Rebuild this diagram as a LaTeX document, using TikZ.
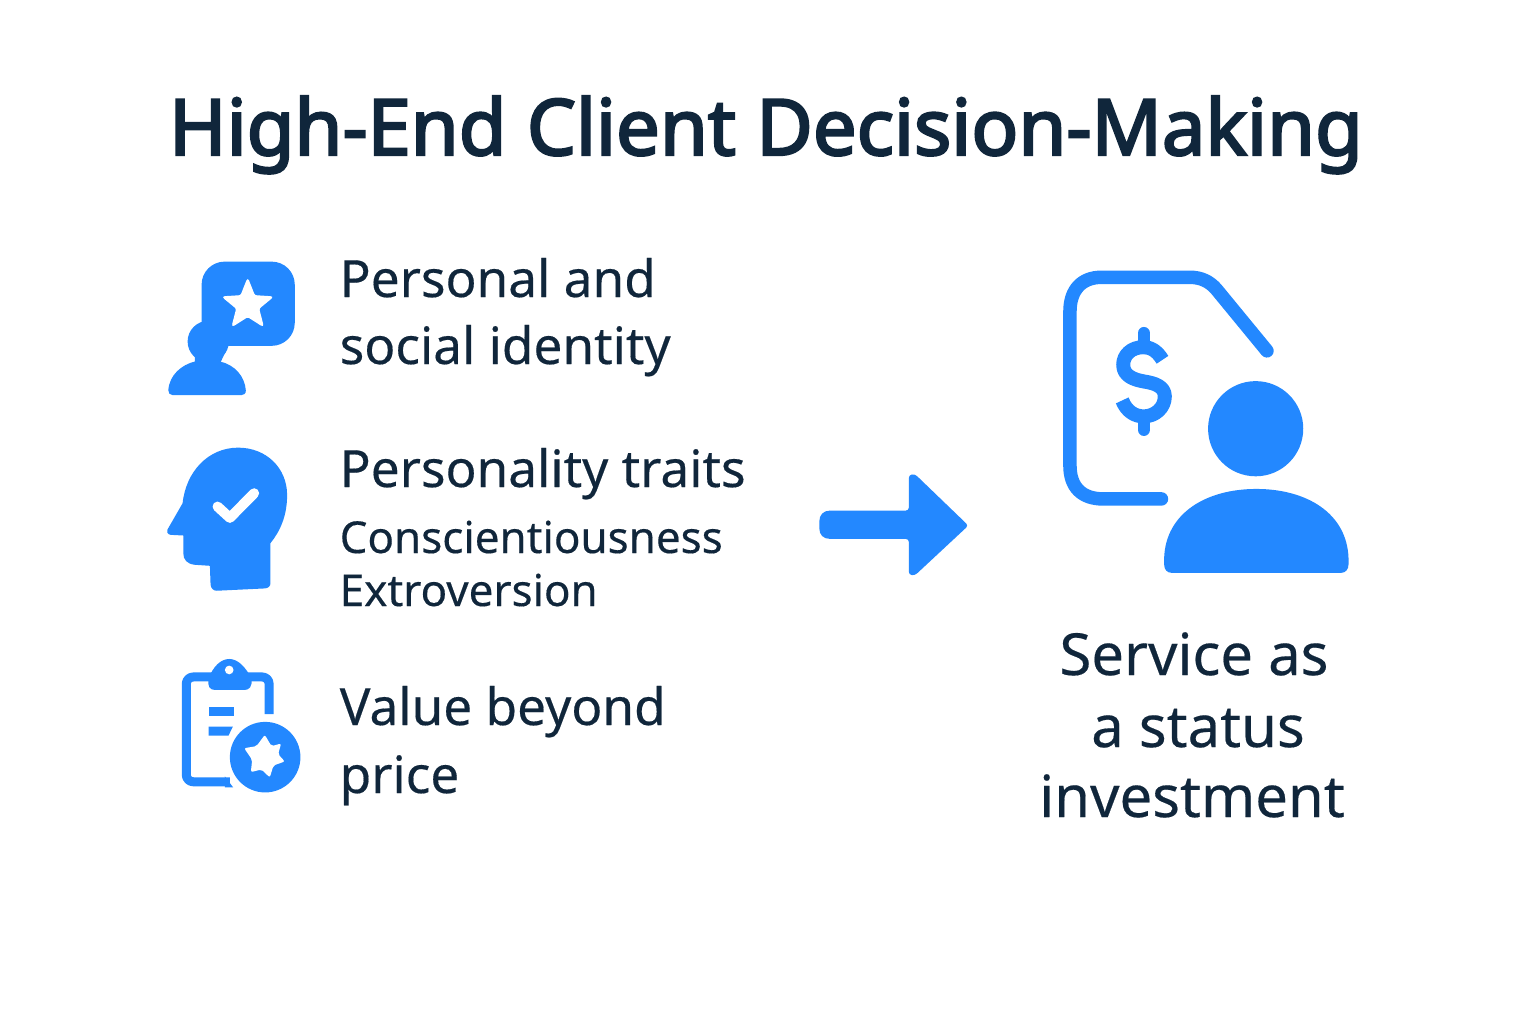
\documentclass[tikz,border=0pt]{standalone}
\usepackage{fontspec}
\setmainfont[FakeBold=0.3]{Noto Sans}
\newfontfamily\titlefont[FakeBold=3]{Noto Sans}
\usetikzlibrary{shapes.geometric}
\definecolor{iconblue}{HTML}{2388FF}
\definecolor{inkblue}{HTML}{10263B}

\begin{document}
\begin{tikzpicture}[
  x=0.01cm, y=-0.01cm,
  every node/.style={text=inkblue, inner sep=0pt},
  titletext/.style={anchor=base, font=\titlefont\fontsize{22.1}{26}\selectfont},
  itemtext/.style={anchor=base west, font=\fontsize{14.6}{18}\selectfont},
  subtext/.style={anchor=base west, font=\fontsize{12.5}{15}\selectfont},
  resulttext/.style={anchor=base, font=\fontsize{16.5}{20}\selectfont},
  iconfill/.style={fill=iconblue, draw=none},
  iconline/.style={draw=iconblue, line cap=round, line join=round},
  holefill/.style={fill=white, draw=none},
  starmark/.style={star, star points=5, star point ratio=2.3, fill=white, draw=white,
    line width=0.4pt, rounded corners=0.6pt, minimum size=0.52cm},
  zoomed/.style={shift={#1}, x=0.003333cm, y=-0.003333cm}
]
\useasboundingbox (0,0) rectangle (1536,1024);
\fill[white] (0,0) rectangle (1536,1024);

% Title
\node[titletext] (title) at (766,155) {High-End Client Decision-Making};

% Identity icon
\begin{scope}[zoomed={(150,240)}]
  \fill[iconfill, rounded corners=0.23cm] (155,65) rectangle (435,318);
  \fill[iconfill] (175,305) circle (62);
  \fill[iconfill] (135,372) -- (135,350) -- (150,318) -- (235,318) -- (210,372) -- cycle;
  \fill[iconfill] (55,452) .. controls (58,405) and (95,375) .. (135,365)
    -- (210,365) .. controls (255,375) and (285,410) .. (288,452)
    .. controls (288,462) and (282,466) .. (275,466) -- (68,466)
    .. controls (60,466) and (55,460) .. (55,452) -- cycle;
\end{scope}
\node[starmark] (idstar) at (247.7,305) {};

% Text of first item
\node[itemtext] (identityA) at (339,297) {Personal and};
\node[itemtext] (identityB) at (339,364) {social identity};

% Head icon
\begin{scope}[zoomed={(150,435)}]
  \fill[iconfill] (52,285) -- (98,205) .. controls (108,110) and (175,38) .. (265,38)
    .. controls (350,38) and (412,100) .. (412,180)
    .. controls (412,245) and (390,290) .. (362,325)
    -- (362,445) .. controls (362,455) and (355,460) .. (345,461)
    -- (200,468) .. controls (190,468) and (183,460) .. (182,450)
    -- (180,393) -- (135,390) .. controls (112,388) and (100,375) .. (100,355)
    -- (100,302) -- (62,300) .. controls (52,298) and (50,292) .. (52,285) -- cycle;
  \draw[draw=white, line width=0.1cm, line cap=round, line join=round]
    (203,215) -- (240,249) -- (313,175);
\end{scope}

% Text of second item
\node[itemtext] (traits) at (339,487) {Personality traits};
\node[subtext] (traitA) at (339,553) {Conscientiousness};
\node[subtext] (traitB) at (339,606) {Extroversion};

% Clipboard icon
\begin{scope}[zoomed={(150,645)}]
  \draw[iconline, line cap=butt, line width=0.09cm, rounded corners=0.07cm]
    (240,411) -- (109,411) -- (109,96) -- (358,96) -- (358,208);
  \fill[iconfill] (176,100) .. controls (190,65) and (212,42) .. (238,42)
    .. controls (264,42) and (286,65) .. (305,100)
    .. controls (308,125) and (298,135) .. (285,135) -- (195,135)
    .. controls (180,135) and (172,125) .. (176,100) -- cycle;
  \fill[holefill] (238,75) circle (13);
  \fill[iconfill] (176,187) rectangle (251,213);
  \fill[iconfill] (176,245) -- (249,245) -- (236,272) -- (176,272) -- cycle;
  \fill[iconfill] (225,395) -- (250,428) -- (225,428) -- cycle;
  \fill[iconfill] (346,337) circle (106);
  \fill[holefill, rounded corners=0.02cm] (345,270) -- (365,304) -- (394,296) -- (385,328)
    -- (405,350) -- (371,362) -- (360,398) -- (335,374) -- (303,382)
    -- (307,345) -- (283,310) -- (320,304) -- cycle;
\end{scope}

% Text of third item
\node[itemtext] (valueA) at (339,725) {Value beyond};
\node[itemtext] (valueB) at (339,793) {price};

% Arrow
\begin{scope}[zoomed={(800,460)}]
  \fill[iconfill, rounded corners=0.03cm] (90,152) -- (327,152) -- (327,45) -- (345,42)
    -- (506,197) -- (345,347) -- (327,345) -- (327,237) -- (90,237);
  \fill[iconfill] (90,152) .. controls (70,152) and (58,165) .. (58,185) -- (58,205)
    .. controls (58,225) and (70,237) .. (90,237) -- cycle;
\end{scope}

% Service icon
\begin{scope}[zoomed={(1040,250)}]
  \draw[iconline, line width=0.135cm] (365,748) -- (190,748)
    .. controls (125,748) and (90,712) .. (90,648) -- (90,185)
    .. controls (90,120) and (125,82) .. (185,82) -- (450,82)
    .. controls (485,82) and (510,95) .. (530,118) -- (682,303);
  \draw[iconline, line width=0.125cm] (312,250) -- (312,285);
  \draw[iconline, line width=0.125cm] (312,505) -- (312,540);
  \draw[iconline, line cap=butt, line width=0.14cm] (368,330)
    .. controls (350,300) and (330,292) .. (310,292)
    .. controls (275,292) and (250,315) .. (250,345)
    .. controls (250,380) and (285,390) .. (312,395)
    .. controls (345,400) and (375,410) .. (375,440)
    .. controls (375,475) and (345,500) .. (312,500)
    .. controls (285,500) and (260,485) .. (247,452);
  \fill[iconfill] (648,537) circle (143);
  \fill[iconfill] (373,925) .. controls (378,790) and (500,718) .. (650,718)
    .. controls (800,718) and (922,790) .. (927,925) -- (927,945)
    .. controls (927,960) and (918,970) .. (905,970) -- (395,970)
    .. controls (382,970) and (373,960) .. (373,945) -- cycle;
\end{scope}

% Result text
\node[resulttext] (resultA) at (1194,675) {Service as};
\node[resulttext] (resultB) at (1198,747) {a status};
\node[resulttext] (resultC) at (1192,817) {investment};
\end{tikzpicture}
\end{document}
